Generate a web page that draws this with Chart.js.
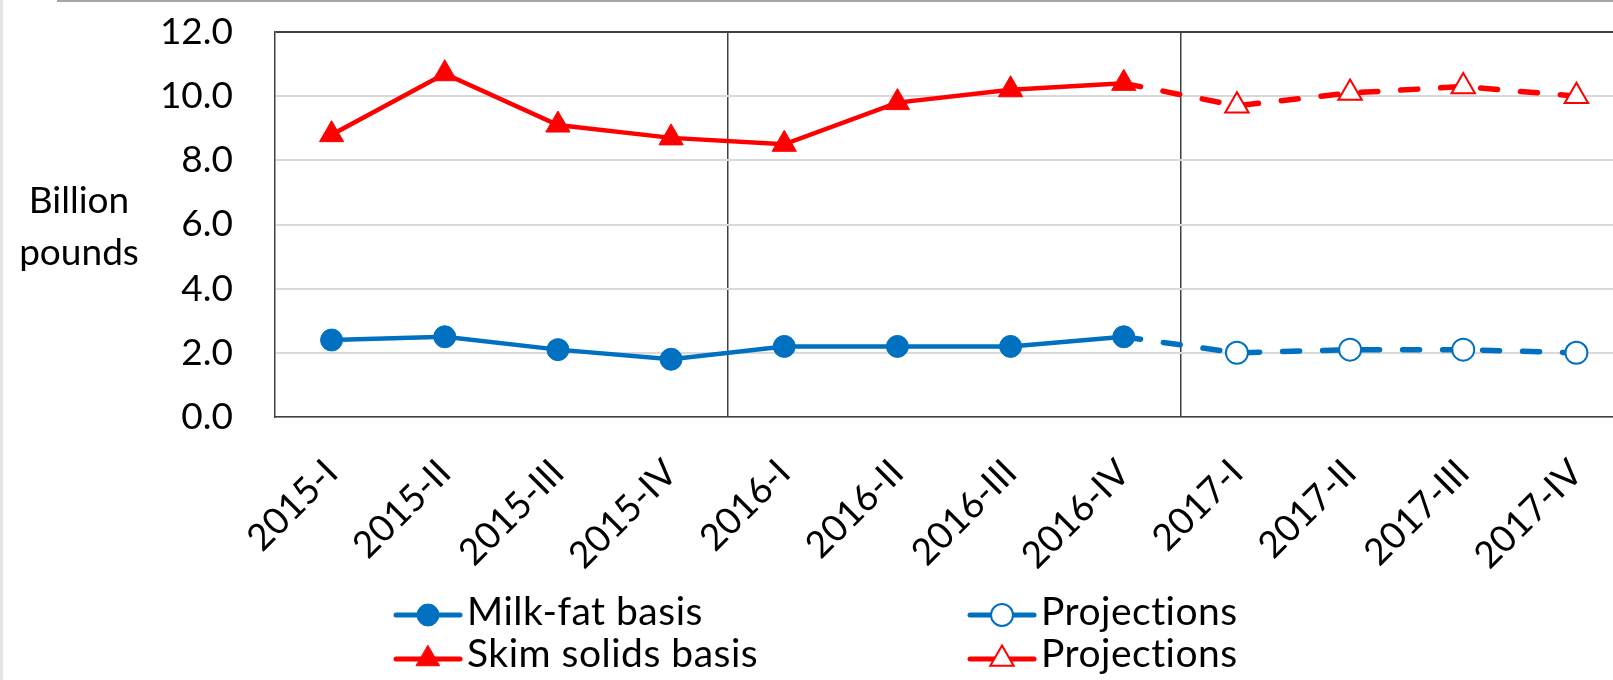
<!DOCTYPE html>
<html>
<head>
<meta charset="utf-8">
<title>Dairy supply</title>
<script src="https://cdn.jsdelivr.net/npm/chart.js@4.4.0/dist/chart.umd.min.js"></script>
<style>
  html, body { margin: 0; padding: 0; background: #fff; overflow: hidden; }
  #wrap { position: relative; width: 1650px; height: 680px; }
  #chart { position: absolute; left: 0; top: 0; }
  #frameTop { position: absolute; left: 57px; top: 0; width: 1600px; height: 2px; background: #a6a6a6; }
  #frameLeft { position: absolute; left: 0; top: 0; width: 3px; height: 680px; background: #e4e4e4; }
</style>
</head>
<body>
<div id="wrap">
  <canvas id="chart" width="1650" height="680"></canvas>
  <div id="frameTop"></div>
  <div id="frameLeft"></div>
</div>
<script>
// Quarters on the x axis
const quarters = ['2015-I', '2015-II', '2015-III', '2015-IV',
                  '2016-I', '2016-II', '2016-III', '2016-IV',
                  '2017-I', '2017-II', '2017-III', '2017-IV'];

// Billion pounds
const milkFat        = [2.4, 2.5, 2.1, 1.8, 2.2, 2.2, 2.2, 2.5, null, null, null, null];
const milkFatProj    = [null, null, null, null, null, null, null, 2.5, 2.0, 2.1, 2.1, 2.0];
const skimSolids     = [8.8, 10.7, 9.1, 8.7, 8.5, 9.8, 10.2, 10.4, null, null, null, null];
const skimSolidsProj = [null, null, null, null, null, null, null, 10.4, 9.7, 10.1, 10.3, 10.0];

const legendNames = ['Milk-fat basis', 'Projections', 'Skim solids basis', 'Projections'];
const yTitle = ['Billion', 'pounds'];

const BLUE = '#0070C0';
const RED = '#FF0000';
const DARK = '#404040';
const FONT = 'Lato';

// the joining point at 2016-IV carries no marker in the projection series
const hideJoin = ctx => (ctx.dataIndex === 7 ? 0 : undefined);

function drawMarker(ctx, style, x, y, r, fill, stroke, lw) {
    ctx.beginPath();
    if (style === 'circle') {
        ctx.arc(x, y, r, 0, Math.PI * 2);
    } else {
        const third = Math.PI * 2 / 3;
        for (let k = 0; k < 3; k++) {
            const a = k * third;
            const px = x + Math.sin(a) * r, py = y - Math.cos(a) * r;
            if (k === 0) ctx.moveTo(px, py); else ctx.lineTo(px, py);
        }
        ctx.closePath();
    }
    ctx.fillStyle = fill;
    ctx.fill();
    ctx.lineWidth = lw;
    ctx.strokeStyle = stroke;
    ctx.stroke();
}

// Horizontal two-line axis title on the left
const yTitlePlugin = {
    id: 'yTitle',
    afterDraw(chart, args, opts) {
        const ctx = chart.ctx;
        ctx.save();
        ctx.font = opts.size + 'px ' + FONT;
        ctx.fillStyle = '#000';
        ctx.textAlign = 'center';
        ctx.textBaseline = 'alphabetic';
        yTitle.forEach((t, i) => ctx.fillText(t, opts.x, opts.baselines[i]));
        ctx.restore();
    }
};

// Legend laid out as a 2x2 grid, like the original
const gridLegend = {
    id: 'gridLegend',
    afterDraw(chart, args, opts) {
        const ctx = chart.ctx;
        ctx.save();
        opts.items.forEach((it, i) => {
            const ds = chart.data.datasets[i];
            ctx.strokeStyle = ds.borderColor;
            ctx.lineWidth = 5;
            ctx.lineCap = 'round';
            ctx.beginPath();
            ctx.moveTo(it.x, it.y);
            ctx.lineTo(it.x + opts.lineLen, it.y);
            ctx.stroke();
            const open = ds.pointBackgroundColor === '#ffffff';
            const r = ds.pointStyle === 'circle' ? 11 : 13.5;
            drawMarker(ctx, ds.pointStyle, it.x + opts.lineLen / 2, it.y, r,
                open ? '#ffffff' : ds.borderColor, ds.borderColor, open ? 2 : 1);
            ctx.font = opts.size + 'px ' + FONT;
            ctx.letterSpacing = '0.5px';   // also keeps "ti" from joining into a ligature
            ctx.fillStyle = '#000';
            ctx.textAlign = 'left';
            ctx.textBaseline = 'alphabetic';
            ctx.fillText(legendNames[i], it.x + opts.lineLen + 7, it.base);
        });
        ctx.restore();
    }
};

new Chart(document.getElementById('chart'), {
    type: 'line',
    data: {
        labels: quarters,
        datasets: [
            {
                label: legendNames[0], data: milkFat,
                borderColor: BLUE, backgroundColor: BLUE, borderWidth: 4.5,
                pointStyle: 'circle', pointRadius: 11, pointBorderWidth: 1,
                pointBackgroundColor: BLUE, pointBorderColor: BLUE
            },
            {
                label: legendNames[1], data: milkFatProj,
                borderColor: BLUE, backgroundColor: '#ffffff', borderWidth: 5.5,
                borderDash: [17, 23], borderCapStyle: 'round',
                pointStyle: 'circle', pointRadius: ctx => hideJoin(ctx) ?? 11, pointBorderWidth: 2,
                pointBackgroundColor: '#ffffff', pointBorderColor: BLUE
            },
            {
                label: legendNames[2], data: skimSolids,
                borderColor: RED, backgroundColor: RED, borderWidth: 4.5,
                pointStyle: 'triangle', pointRadius: 14, pointBorderWidth: 1,
                pointBackgroundColor: RED, pointBorderColor: RED
            },
            {
                label: legendNames[3], data: skimSolidsProj,
                borderColor: RED, backgroundColor: '#ffffff', borderWidth: 5.5,
                borderDash: [17, 23], borderCapStyle: 'round',
                pointStyle: 'triangle', pointRadius: ctx => hideJoin(ctx) ?? 13.5, pointBorderWidth: 2,
                pointBackgroundColor: '#ffffff', pointBorderColor: RED
            }
        ]
    },
    options: {
        responsive: false,
        animation: false,
        events: [],
        layout: { padding: { top: 32, right: 17, bottom: 0, left: 0 } },
        scales: {
            x: {
                offset: true,
                afterFit: scale => { scale.height = 263; },
                grid: {
                    offset: true,
                    drawTicks: false,
                    lineWidth: 1.5,
                    color: ctx => (ctx.index === 4 || ctx.index === 8) ? DARK : 'rgba(0,0,0,0)'
                },
                border: { color: DARK, width: 1.5 },
                ticks: {
                    minRotation: 45, maxRotation: 45, autoSkip: false,
                    padding: 34,
                    color: '#000',
                    font: { family: FONT, size: 37 }
                }
            },
            y: {
                min: 0, max: 12,
                afterFit: scale => { scale.width = 275; },
                grid: {
                    drawTicks: true,
                    tickLength: 34,
                    tickColor: 'rgba(0,0,0,0)',
                    lineWidth: 2,
                    color: ctx => (ctx.tick && ctx.tick.value === 12) ? DARK : '#D9D9D9'
                },
                border: { color: DARK, width: 1.5 },
                ticks: {
                    stepSize: 2,
                    padding: 8,
                    color: '#000',
                    font: { family: FONT, size: 37 },
                    callback: v => v.toFixed(1)
                }
            }
        },
        plugins: {
            legend: { display: false },
            tooltip: { enabled: false },
            yTitle: { x: 79, baselines: [213, 265], size: 37 },
            gridLegend: {
                size: 39,
                lineLen: 64,
                items: [
                    { x: 396, y: 615, base: 625 },
                    { x: 970, y: 615, base: 625 },
                    { x: 396, y: 659, base: 667 },
                    { x: 970, y: 659, base: 667 }
                ]
            }
        }
    },
    plugins: [yTitlePlugin, gridLegend]
});
</script>
</body>
</html>
